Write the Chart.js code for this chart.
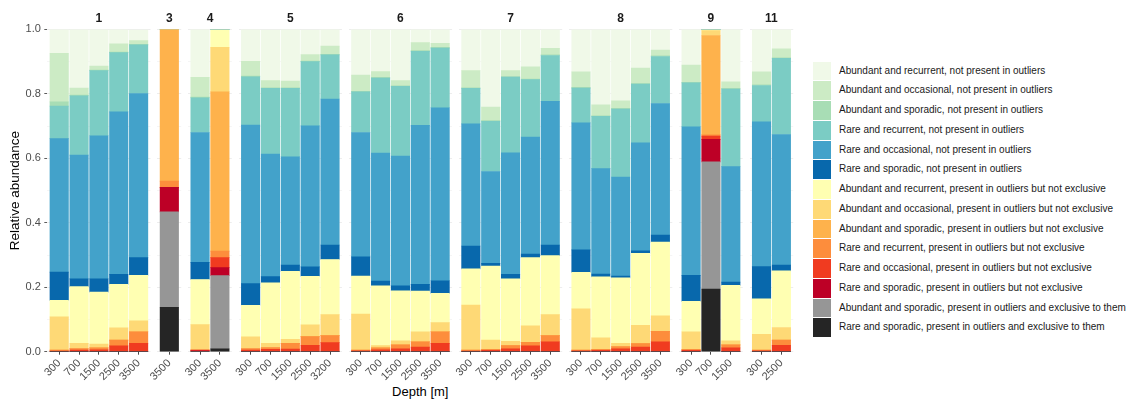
<!DOCTYPE html>
<html>
<head>
<meta charset="utf-8">
<script src="https://cdn.jsdelivr.net/npm/chart.js@4.4.1/dist/chart.umd.min.js"></script>
<style>
  body { margin: 0; background: #fff; font-family: "Liberation Sans", Arial, sans-serif; }
  #wrap { position: relative; width: 1132px; height: 407px; overflow: hidden; }
  #wrap canvas { position: absolute; top: 0; }
  #xtitle { position: absolute; left: 420.3px; top: 384px; font-size: 13px; line-height: 15px; color: #000; white-space: nowrap; transform: translateX(-50%); }
  #legend { position: absolute; left: 813.3px; top: 61.7px; }
  .item { position: relative; height: 19.75px; }
  .key { position: absolute; left: 0; top: 0; width: 17.7px; height: 18.6px; }
  .lab { position: absolute; left: 25.7px; top: 0; line-height: 18.6px; font-size: 10px; color: #1a1a1a; white-space: nowrap; }
</style>
</head>
<body>
<div id="wrap">
  <div id="xtitle">Depth [m]</div>
  <div id="legend"></div>
</div>
<script>
// facets and their depth ticks
const panels = ['1', '3', '4', '5', '6', '7', '8', '9', '11'];
const depths = [
    ['300', '700', '1500', '2500', '3500'],
    ['3500'],
    ['300', '3500'],
    ['300', '700', '1500', '2500', '3200'],
    ['300', '700', '1500', '2500', '3500'],
    ['300', '700', '1500', '2500', '3500'],
    ['300', '700', '1500', '2500', '3500'],
    ['300', '700', '1500'],
    ['300', '2500']
];

const categories = [
    'Abundant and recurrent, not present in outliers',
    'Abundant and occasional, not present in outliers',
    'Abundant and sporadic, not present in outliers',
    'Rare and recurrent, not present in outliers',
    'Rare and occasional, not present in outliers',
    'Rare and sporadic, not present in outliers',
    'Abundant and recurrent, present in outliers but not exclusive',
    'Abundant and occasional, present in outliers but not exclusive',
    'Abundant and sporadic, present in outliers but not exclusive',
    'Rare and recurrent, present in outliers but not exclusive',
    'Rare and occasional, present in outliers but not exclusive',
    'Rare and sporadic, present in outliers but not exclusive',
    'Abundant and sporadic, present in outliers and exclusive to them',
    'Rare and sporadic, present in outliers and exclusive to them'
];
const colors = ['#f0f9e8', '#ccebc5', '#a8ddb5', '#7bccc4', '#43a2ca', '#0868ac',
    '#ffffb2', '#fed976', '#feb24c', '#fd8d3c', '#f03b20', '#bd0026', '#969696', '#252525'];

// relative abundance per sample (panel order: 1 | 3 | 4 | 5 | 6 | 7 | 8 | 9 | 11)
const abRecNot  = [0.074, 0.182, 0.114, 0.045, 0.034, 0, 0.149, 0, 0.099, 0.158, 0.160, 0.077, 0.052, 0.142, 0.131, 0.159, 0.041, 0.043, 0.128, 0.241, 0.128, 0.116, 0.059, 0.132, 0.234, 0.222, 0.120, 0.064, 0.111, 0, 0.163, 0.132, 0.060];
const abOccNot  = [0.151, 0.022, 0.012, 0.025, 0.011, 0, 0.061, 0, 0.046, 0.022, 0.021, 0.020, 0.025, 0.050, 0.018, 0.016, 0.025, 0.013, 0.053, 0.042, 0.018, 0.038, 0.020, 0.048, 0.034, 0.023, 0.048, 0.018, 0.053, 0, 0.020, 0.040, 0.028];
const abSpoNot  = [0.013, 0.002, 0.002, 0.002, 0.002, 0, 0.002, 0, 0.002, 0.002, 0.002, 0.002, 0.002, 0.002, 0.002, 0.002, 0.002, 0.002, 0.002, 0.002, 0.002, 0.002, 0.002, 0.002, 0.002, 0.002, 0.002, 0.002, 0.002, 0, 0.002, 0.002, 0.002];
const raRecNot  = [0.101, 0.184, 0.202, 0.184, 0.151, 0, 0.108, 0, 0.150, 0.204, 0.212, 0.199, 0.137, 0.126, 0.233, 0.216, 0.230, 0.185, 0.110, 0.156, 0.235, 0.178, 0.142, 0.108, 0.162, 0.211, 0.182, 0.146, 0.136, 0, 0.241, 0.113, 0.236];
const raOccNot  = [0.414, 0.384, 0.444, 0.504, 0.509, 0, 0.403, 0, 0.492, 0.380, 0.336, 0.438, 0.453, 0.386, 0.397, 0.403, 0.493, 0.537, 0.379, 0.285, 0.377, 0.363, 0.446, 0.394, 0.327, 0.307, 0.335, 0.408, 0.461, 0, 0.358, 0.449, 0.405];
const raSpoNot  = [0.088, 0.024, 0.041, 0.031, 0.055, 0, 0.053, 0, 0.067, 0.019, 0.020, 0.029, 0.045, 0.059, 0.015, 0.015, 0.021, 0.039, 0.071, 0.008, 0.014, 0.011, 0.033, 0.070, 0.009, 0.006, 0.008, 0.022, 0.081, 0, 0.010, 0.100, 0.018];
const abRecPres = [0.051, 0.176, 0.161, 0.135, 0.141, 0, 0.140, 0.056, 0.098, 0.188, 0.211, 0.151, 0.171, 0.118, 0.185, 0.155, 0.126, 0.091, 0.112, 0.230, 0.194, 0.212, 0.183, 0.113, 0.189, 0.203, 0.223, 0.229, 0.094, 0.004, 0.172, 0.110, 0.176];
const abOccPres = [0.103, 0.016, 0.012, 0.038, 0.034, 0, 0.079, 0.138, 0.036, 0.013, 0.012, 0.036, 0.065, 0.112, 0.007, 0.013, 0.031, 0.028, 0.140, 0.029, 0.013, 0.051, 0.065, 0.128, 0.036, 0.010, 0.057, 0.048, 0.055, 0.015, 0.013, 0.049, 0.039];
const abSpoPres = [0, 0, 0, 0, 0, 0.471, 0, 0.494, 0, 0, 0, 0, 0, 0, 0, 0, 0, 0, 0, 0, 0, 0, 0, 0, 0, 0, 0, 0, 0, 0.308, 0, 0, 0];
const raRecPres = [0.003, 0.005, 0.006, 0.018, 0.036, 0.019, 0, 0.020, 0.005, 0.006, 0.018, 0.027, 0.022, 0.002, 0.006, 0.012, 0.017, 0.036, 0.003, 0.003, 0.010, 0.011, 0.019, 0.002, 0.003, 0.007, 0.011, 0.032, 0.003, 0.004, 0.009, 0.002, 0.016];
const raOccPres = [0.002, 0.005, 0.006, 0.018, 0.026, 0, 0.002, 0.031, 0.005, 0.007, 0.008, 0.020, 0.028, 0.003, 0.006, 0.009, 0.014, 0.026, 0.002, 0.004, 0.009, 0.018, 0.031, 0.003, 0.004, 0.009, 0.014, 0.031, 0.004, 0.010, 0.012, 0.003, 0.020];
const raSpoPres = [0, 0, 0, 0, 0, 0.076, 0.003, 0.025, 0, 0, 0, 0, 0, 0, 0, 0, 0, 0, 0, 0, 0, 0, 0, 0, 0, 0, 0, 0, 0, 0.070, 0, 0, 0];
const abSpoExcl = [0, 0, 0, 0, 0, 0.296, 0, 0.227, 0, 0, 0, 0, 0, 0, 0, 0, 0, 0, 0, 0, 0, 0, 0, 0, 0, 0, 0, 0, 0, 0.395, 0, 0, 0];
const raSpoExcl = [0, 0, 0, 0, 0, 0.138, 0, 0.009, 0, 0, 0, 0, 0, 0, 0, 0, 0, 0, 0, 0, 0, 0, 0, 0, 0, 0, 0, 0, 0, 0.194, 0, 0, 0];

const series = [abRecNot, abOccNot, abSpoNot, raRecNot, raOccNot, raSpoNot,
    abRecPres, abOccPres, abSpoPres, raRecPres, raOccPres, raSpoPres, abSpoExcl, raSpoExcl];

// layout (px)
const SLOT = 19.85, GAP = 6.9, X0 = 47.3, BOTTOM = 351.7, H = 407;
const FONT = '"Liberation Sans", Arial, sans-serif';

const wrap = document.getElementById('wrap');
let start = 0;
let left = X0;

panels.forEach((name, p) => {
    const labels = depths[p];
    const n = labels.length;
    const w = (n + 0.2) * SLOT;
    const first = p === 0;
    const cLeft = first ? 0 : Math.floor(left) - 30;
    const cWidth = Math.ceil(left + w + 6) - cLeft;
    const padL = first ? 0 : left - cLeft;
    const padR = cWidth - (left - cLeft) - w;

    const canvas = document.createElement('canvas');
    canvas.width = cWidth;
    canvas.height = H;
    canvas.style.left = cLeft + 'px';
    wrap.appendChild(canvas);

    // ggplot stacks the first level on top, Chart.js stacks the first dataset at the bottom
    const datasets = series.map((s, k) => ({
        label: categories[k],
        data: s.slice(start, start + n).map((v, i) => ({ x: i, y: v })),
        backgroundColor: colors[k],
        borderWidth: 0,
        barThickness: SLOT * 0.93
    })).reverse();

    new Chart(canvas, {
        type: 'bar',
        data: { datasets },
        options: {
            responsive: false,
            animation: false,
            devicePixelRatio: 1,
            layout: { padding: { left: padL, right: padR, top: 0, bottom: 0 } },
            plugins: {
                legend: { display: false },
                tooltip: { enabled: false },
                title: {
                    display: true, text: name, fullSize: false, color: '#1a1a1a',
                    font: { family: FONT, size: 12, weight: 'bold' },
                    padding: { top: 11, bottom: 4 }
                }
            },
            scales: {
                x: {
                    type: 'linear', stacked: true, offset: false, min: -0.6, max: n - 0.4,
                    afterBuildTicks: s => { s.ticks = labels.map((l, i) => ({ value: i })); },
                    afterFit: s => { s.height = H - BOTTOM; s.paddingLeft = 0; s.paddingRight = 0; },
                    ticks: {
                        autoSkip: false, minRotation: 45, maxRotation: 45, padding: 2,
                        color: '#4d4d4d', font: { family: FONT, size: 11 },
                        callback: v => labels[v]
                    },
                    grid: { offset: false, drawOnChartArea: false, drawTicks: true, tickLength: 3, color: '#333', tickColor: '#333', lineWidth: 0.9 },
                    border: { display: false }
                },
                y: {
                    stacked: true, min: 0, max: 1,
                    afterFit: s => { s.width = first ? X0 : 0; },
                    ticks: {
                        display: first, stepSize: 0.1, autoSkip: false, padding: 3.5,
                        color: '#4d4d4d', font: { family: FONT, size: 11 },
                        callback: (v, i) => (i % 2 ? '' : v.toFixed(1))
                    },
                    grid: {
                        drawTicks: first, tickLength: 3,
                        color: ctx => (ctx.index % 2 ? '#f3f3f3' : '#e8e8e8'),
                        tickColor: ctx => (ctx.index % 2 ? 'rgba(0,0,0,0)' : '#333'),
                        lineWidth: 0.8
                    },
                    border: { display: false },
                    title: {
                        display: first, text: 'Relative abundance', color: '#000',
                        font: { family: FONT, size: 13.5 }, padding: { top: 7, bottom: 0 }
                    }
                }
            }
        }
    });

    start += n;
    left += w + GAP;
});

// legend
const legend = document.getElementById('legend');
categories.forEach((c, k) => {
    const item = document.createElement('div');
    item.className = 'item';
    item.innerHTML = `<div class="key" style="background:${colors[k]}"></div><div class="lab">${c}</div>`;
    legend.appendChild(item);
});
</script>
</body>
</html>
